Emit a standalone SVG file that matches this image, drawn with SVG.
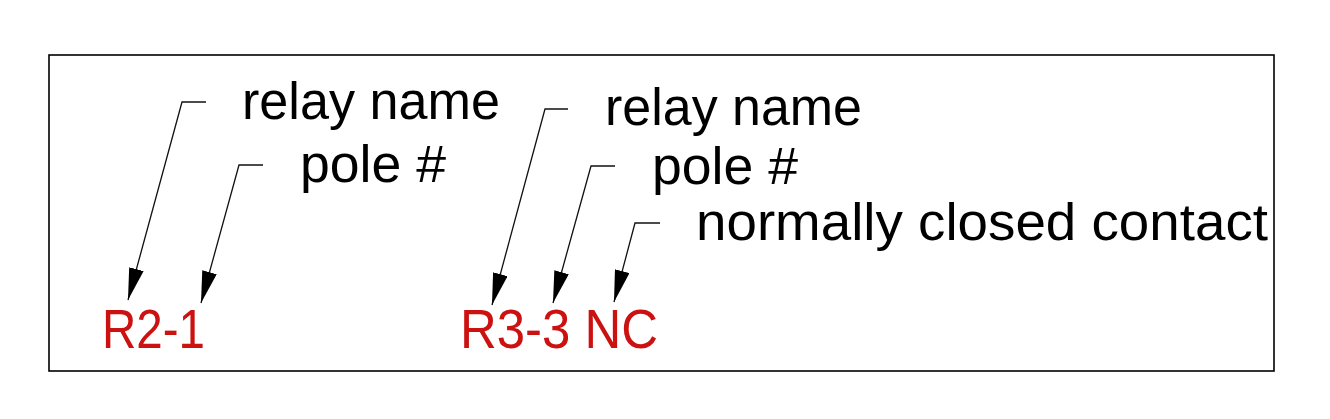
<svg xmlns="http://www.w3.org/2000/svg" width="1330" height="419" viewBox="0 0 1330 419">
<style>
.lbl{font-family:"Liberation Sans",Arial,sans-serif;font-size:51px;fill:#000}
.ref{font-family:"Liberation Sans",Arial,sans-serif;font-size:55px;fill:#cc1111}
.ld{fill:none;stroke:#111;stroke-width:1.3;marker-end:url(#ah)}
</style>
<defs>
<marker id="ah" markerUnits="userSpaceOnUse" markerWidth="32" markerHeight="15" viewBox="0 0 32 15" refX="32" refY="7.5" orient="auto">
<path d="M0,0 L32,7.5 L0,15 z" fill="#000"/>
</marker>
</defs>
<rect x="49" y="55" width="1225" height="316" fill="#fff" stroke="#000" stroke-width="1.6"/>
<g id="label-relay-name-1"><text class="lbl" x="242" y="119" textLength="258" lengthAdjust="spacingAndGlyphs">relay name</text></g>
<g id="label-pole-1"><text class="lbl" x="300" y="182" textLength="146" lengthAdjust="spacingAndGlyphs">pole #</text></g>
<g id="label-relay-name-2"><text class="lbl" x="605" y="125" textLength="257" lengthAdjust="spacingAndGlyphs">relay name</text></g>
<g id="label-pole-2"><text class="lbl" x="652" y="184" textLength="146" lengthAdjust="spacingAndGlyphs">pole #</text></g>
<g id="label-nc"><text class="lbl" x="696" y="240" textLength="572" lengthAdjust="spacingAndGlyphs">normally closed contact</text></g>
<g id="ref-r2-1"><text class="ref" x="102" y="348" textLength="103" lengthAdjust="spacingAndGlyphs">R2-1</text></g>
<g id="ref-r3-3-nc"><text class="ref" x="460" y="348" textLength="198" lengthAdjust="spacingAndGlyphs">R3-3 NC</text></g>
<g id="connectors">
<path class="ld" d="M206,102 H182 L128,300"/>
<path class="ld" d="M263,165 H239 L201,303"/>
<path class="ld" d="M568,109 H545 L492,305"/>
<path class="ld" d="M615,166 H591 L553,303"/>
<path class="ld" d="M660,223 H635 L614,302"/>
</g>
</svg>
